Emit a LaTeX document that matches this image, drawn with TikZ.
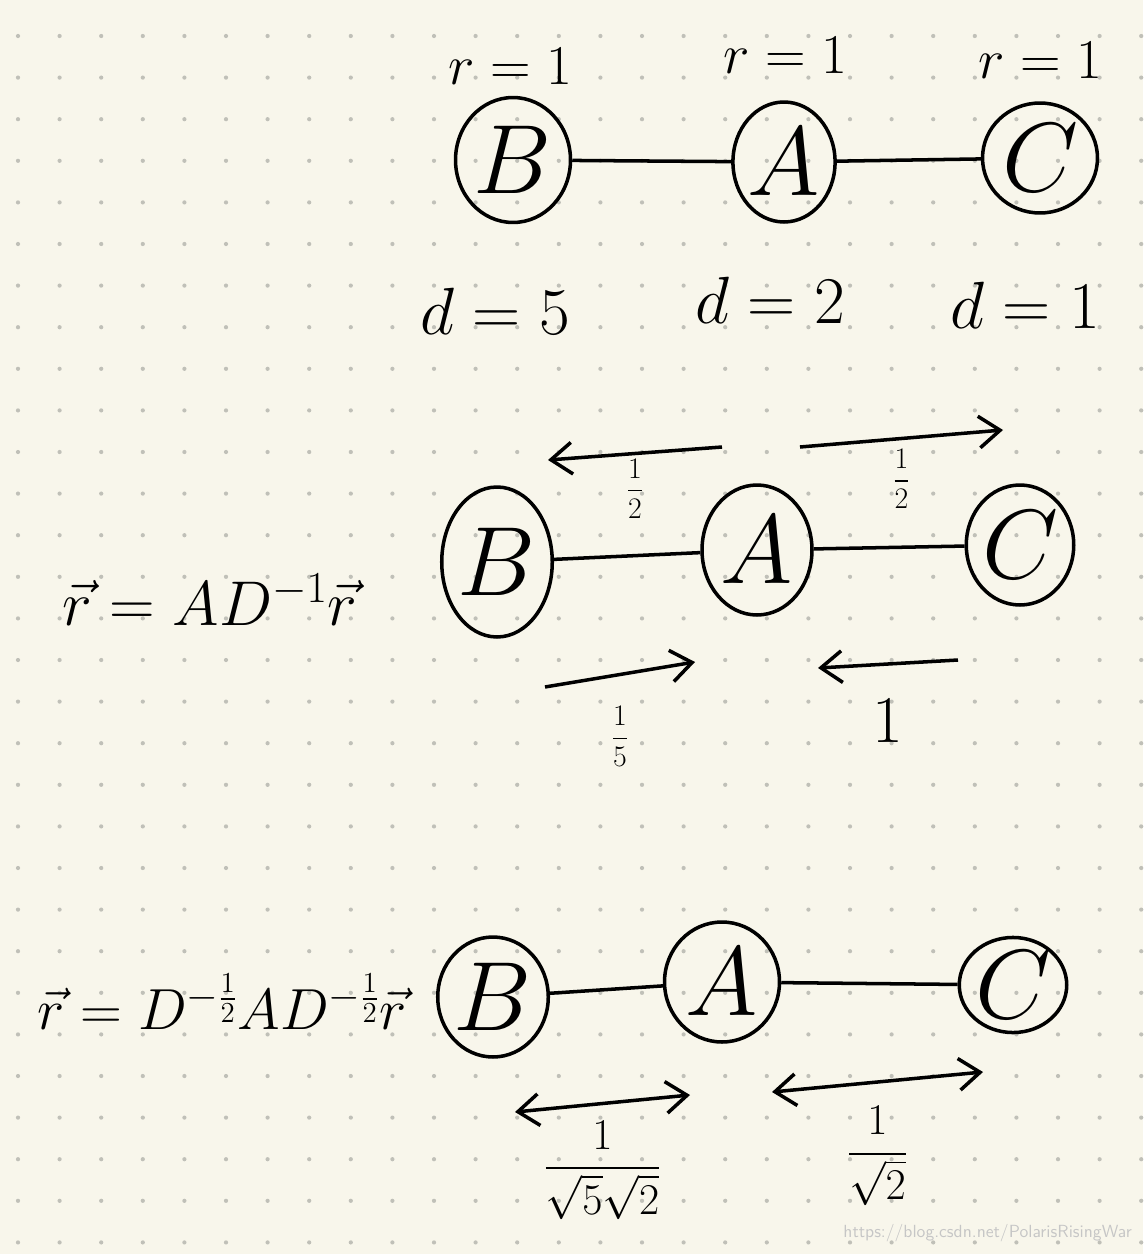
\RequirePackage{fix-cm}
\documentclass[tikz,border=0pt]{standalone}
\usepackage{amsmath}
\usetikzlibrary{shapes.geometric,arrows.meta}
\definecolor{paper}{RGB}{248,246,235}
\definecolor{dotc}{RGB}{192,192,184}
\begin{document}
\begin{tikzpicture}[x=0.02cm, y=-0.02cm,
  vertex/.style = {ellipse,draw,line width=2pt,inner sep=0pt,font=\fontsize{56}{60}\selectfont},
  edge/.style   = {line width=2pt},
  tag/.style    = {font=\fontsize{38}{42}\selectfont},
  formula/.style= {font=\fontsize{36}{40}\selectfont},
  frac/.style   = {font=\fontsize{17}{20}\selectfont,inner sep=1pt},
  bigfrac/.style= {font=\fontsize{25}{30}\selectfont,inner sep=1pt},
  arr/.style    = {line width=2pt,-{Straight Barb[length=12pt,width=18pt]}},
  darr/.style   = {line width=2pt,{Straight Barb[length=12pt,width=18pt]}-{Straight Barb[length=12pt,width=18pt]}}]
\fill[paper] (0,0) rectangle (1143,1254);
\useasboundingbox (0,0) rectangle (1143,1254);
\foreach \i in {0,...,27}
  \foreach \j in {0,...,29}
    \fill[dotc] (18+41.6*\i, 36+41.6*\j) circle (1.2pt);
% first row
\node[vertex,minimum width=2.3cm,minimum height=2.5cm] (B1) at (513,160) {$B$};
\node[vertex,minimum width=2.0cm,minimum height=2.4cm] (A1) at (784,162) {$A$};
\node[vertex,minimum width=2.3cm,minimum height=2.2cm] (C1) at (1040,158) {$C$};
\draw[edge] (B1) -- (A1);
\draw[edge] (A1) -- (C1);
\foreach \v/\x/\y/\d in {B1/510/66/5, A1/785/55/2, C1/1040/60/1}{
  \node[tag,font=\fontsize{32}{36}\selectfont] (r\v) at (\x,\y) {$r=1$};
  \node[tag] (d\v) at (\x-15,\y+245) {$d=\d$};
}
% second row
\node[formula] (f2) at (210,600) {$\vec{r}=AD^{-1}\vec{r}$};
\node[vertex,minimum width=2.2cm,minimum height=3.0cm] (B2) at (497,562) {$B$};
\node[vertex,minimum width=2.2cm,minimum height=2.6cm] (A2) at (757,550) {$A$};
\node[vertex,minimum width=1.9cm,minimum height=2.4cm] (C2) at (1020,545) {$C$};
\draw[edge] (B2) -- (A2);
\draw[edge] (A2) -- (C2);
\coordinate (p1) at (722,447);
\coordinate (p2) at (548,460);
\coordinate (p3) at (800,447);
\coordinate (p4) at (1003,430);
\coordinate (p5) at (545,687);
\coordinate (p6) at (695,662);
\coordinate (p7) at (958,660);
\coordinate (p8) at (818,668);
\draw[arr] (p1) -- (p2) node[frac,midway,below=1pt] (hAB) {$\dfrac{1}{2}$};
\draw[arr] (p3) -- (p4) node[frac,midway,below=4pt] (hAC) {$\dfrac{1}{2}$};
\draw[arr] (p5) -- (p6) node[frac,midway,below=16pt] (hBA) {$\dfrac{1}{5}$};
\draw[arr] (p7) -- (p8) node[tag,midway,below=16pt] (hCA) {$1$};
% third row
\node[formula,font=\fontsize{33}{38}\selectfont] (f3) at (222,1002) {$\vec{r}=D^{-\frac{1}{2}}AD^{-\frac{1}{2}}\vec{r}$};
\node[vertex,minimum width=1.8cm,minimum height=2.4cm] (B3) at (493,997) {$B$};
\node[vertex,minimum width=2.3cm,minimum height=2.4cm] (A3) at (722,982) {$A$};
\node[vertex,minimum width=1.8cm,minimum height=1.9cm] (C3) at (1013,985) {$C$};
\draw[edge] (B3) -- (A3);
\draw[edge] (A3) -- (C3);
\coordinate (q1) at (515,1112);
\coordinate (q2) at (690,1095);
\coordinate (q3) at (772,1092);
\coordinate (q4) at (983,1072);
\draw[darr] (q1) -- (q2) node[bigfrac,midway,below=8pt] (wBA) {$\dfrac{1}{\sqrt{5}\sqrt{2}}$};
\draw[darr] (q3) -- (q4) node[bigfrac,midway,below=12pt] (wAC) {$\dfrac{1}{\sqrt{2}}$};
\node[font=\sffamily\fontsize{10}{12}\selectfont,text=gray!45,anchor=east] (wm) at (1138,1233) {https://blog.csdn.net/PolarisRisingWar};
\end{tikzpicture}
\end{document}
